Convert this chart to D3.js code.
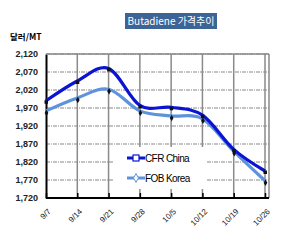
<!DOCTYPE html>
<html><head><meta charset="utf-8">
<script src="https://cdn.jsdelivr.net/npm/d3@7"></script>
<style>
html,body{margin:0;padding:0;background:#fff;}
svg{display:block;font-family:"Liberation Sans",Arial,sans-serif;}
</style></head><body>
<svg id="c" width="307" height="247"></svg>
<script>
const categories = ["9/7","9/14","9/21","9/28","10/5","10/12","10/19","10/26"];
const cfrChina = [1990, 2045, 2080, 1977, 1972, 1950, 1855, 1795];
const fobKorea = [1962, 1998, 2022, 1962, 1948, 1940, 1850, 1768];
const yTicks = [1720, 1770, 1820, 1870, 1920, 1970, 2020, 2070, 2120];
const seriesNames = ["CFR China", "FOB Korea"];

const svg = d3.select("#c");
const pL = 46, pR = 265, plotRight = 269, pT = 54, pB = 198;
const x = d3.scalePoint().domain(categories).range([pL, pR]);
const y = d3.scaleLinear().domain([1720, 2120]).range([pB, pT]);

// title
svg.append("rect").attr("x",125).attr("y",13).attr("width",92).attr("height",16).attr("fill","#3d6497");
svg.append("text").attr("x",171).attr("y",25).attr("text-anchor","middle")
  .attr("fill","#fff").style("font-family","'Noto Sans CJK KR','Liberation Sans',sans-serif")
  .style("font-size","10px").text("Butadiene 가격추이");
svg.append("text").attr("x",10).attr("y",40).style("font-family","'Noto Sans CJK KR',sans-serif")
  .style("font-size","8.5px").style("font-weight","bold").attr("fill","#000").text("달러/MT");

// grid
svg.append("g").selectAll("line").data(yTicks.slice(1)).join("line")
  .attr("x1",pL).attr("x2",plotRight).attr("y1",d=>y(d)).attr("y2",d=>y(d))
  .attr("stroke","#8a8a8a").attr("stroke-width",1.2).attr("stroke-dasharray","4,1,1,1");
svg.append("g").selectAll("line").data(categories.slice(1)).join("line")
  .attr("x1",d=>x(d)).attr("x2",d=>x(d)).attr("y1",pT).attr("y2",pB)
  .attr("stroke","#8a8a8a").attr("stroke-width",1.5);
svg.append("line").attr("x1",plotRight).attr("x2",plotRight).attr("y1",pT).attr("y2",pB).attr("stroke","#8a8a8a").attr("stroke-width",1.5);

// axes
const yAxis = d3.axisLeft(y).tickValues(yTicks).tickFormat(d3.format(",")).tickSize(0).tickPadding(8);
const gy = svg.append("g").attr("transform",`translate(${pL},0)`).call(yAxis);
gy.select(".domain").attr("stroke","#000").attr("stroke-width",2);
gy.selectAll("text").style("font-size","9px").style("font-weight","bold").attr("fill","#222");

const xAxis = d3.axisBottom(x).tickSize(-5).tickPadding(0);
const gx = svg.append("g").attr("transform",`translate(0,${pB})`).call(xAxis);
gx.select(".domain").attr("d",`M${pL},0H${plotRight}`).attr("stroke","#000").attr("stroke-width",2);
gx.selectAll(".tick line").attr("stroke","#000").attr("stroke-width",1.5);
gx.selectAll("text").attr("transform","translate(3,12) rotate(-45)").attr("text-anchor","end")
  .attr("dy","0.35em").style("font-size","8px").attr("fill","#222");

// top border
svg.append("line").attr("x1",pL).attr("x2",plotRight).attr("y1",pT).attr("y2",pT).attr("stroke","#8a8a8a").attr("stroke-width",1.5);

// legend box (white, covers grid)
svg.append("rect").attr("x",113).attr("y",147).attr("width",94).attr("height",42).attr("fill","#fff");

const line = d3.line().x((d,i)=>x(categories[i])).y(d=>y(d)).curve(d3.curveCatmullRom.alpha(0));
const colors = ["#0a14d2","#5e93dc"];
svg.append("path").attr("d",line(fobKorea)).attr("fill","none").attr("stroke",colors[1]).attr("stroke-width",3.2);
svg.append("path").attr("d",line(cfrChina)).attr("fill","none").attr("stroke",colors[0]).attr("stroke-width",3.2);
// markers
svg.append("g").selectAll("rect").data(cfrChina).join("rect")
  .attr("x",(d,i)=>x(categories[i])-1.5).attr("y",d=>y(d)-0.5).attr("width",3.5).attr("height",3.5).attr("fill","#111");
svg.append("g").selectAll("path").data(fobKorea).join("path")
  .attr("transform",(d,i)=>`translate(${x(categories[i])+0.5},${y(d)+2})`)
  .attr("d",d3.symbol(d3.symbolDiamond,12)).attr("fill","#111");

// legend entries
const lg = svg.append("g");
seriesNames.forEach((n,i)=>{
  const yy = 158 + i*20;
  lg.append("line").attr("x1",127).attr("x2",145).attr("y1",yy).attr("y2",yy).attr("stroke",colors[i]).attr("stroke-width",3);
  if(i===0) lg.append("rect").attr("x",133).attr("y",yy-3).attr("width",6).attr("height",6).attr("fill","#fff").attr("stroke",colors[0]).attr("stroke-width",1.2);
  else lg.append("path").attr("transform",`translate(136,${yy})`).attr("d",d3.symbol(d3.symbolDiamond,22)).attr("fill","#fff").attr("stroke",colors[1]).attr("stroke-width",1);
  lg.append("text").attr("x",145).attr("y",yy+3.5).style("font-size","10px").style("letter-spacing","-0.6px").attr("fill","#000").text(n);
});
</script></body></html>
